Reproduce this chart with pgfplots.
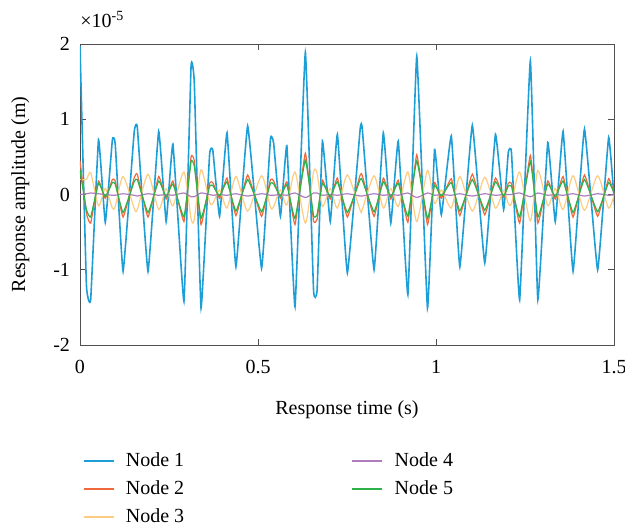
\documentclass[border=0pt]{standalone}
\usepackage{fontspec}
\setmainfont{Liberation Serif}
\usepackage{pgfplots}
\pgfplotsset{compat=1.18}
\usepackage{pgfplotstable}
\definecolor{c1}{RGB}{30,158,214}
\definecolor{c2}{RGB}{240,105,60}
\definecolor{c3}{RGB}{252,204,128}
\definecolor{c4}{RGB}{176,124,192}
\definecolor{c5}{RGB}{45,178,74}
\definecolor{axgray}{RGB}{80,80,80}

\pgfplotstableread{
x      b      o      g      yl     p
0.000  1.97   0.45   0.32   0.20   0.00
0.018 -1.20  -0.25  -0.20   0.20   0.01
0.030 -1.40  -0.38  -0.30   0.29   0.02
0.052  0.73   0.18   0.15  -0.15   0.01
0.071 -0.37  -0.05  -0.03   0.08   0.00
0.091  0.73   0.20   0.16  -0.18  -0.01
0.099  0.67   0.18   0.14  -0.16  -0.01
0.121 -1.02  -0.30  -0.24   0.24   0.01
0.152  0.82   0.22   0.17  -0.18  -0.01
0.161  0.89   0.27   0.20  -0.20  -0.02
0.191 -1.02  -0.30  -0.24   0.27   0.01
0.221  0.84   0.24   0.18  -0.20  -0.01
0.242 -0.36  -0.06  -0.03   0.08   0.00
0.261  0.67   0.18   0.14  -0.15  -0.01
0.292 -1.42  -0.36  -0.30   0.30   0.02
0.312  1.71   0.50   0.44  -0.32  -0.03
0.321  1.49   0.45   0.38  -0.33  -0.03
0.340 -1.51  -0.40  -0.32   0.33   0.02
0.364  0.53   0.15   0.11  -0.10   0.00
0.373  0.59   0.16   0.12  -0.12  -0.01
0.392 -0.29  -0.05  -0.02   0.06   0.00
0.413  0.82   0.22   0.17  -0.18  -0.01
0.438 -0.96  -0.28  -0.22   0.24   0.01
0.471  0.91   0.26   0.20  -0.22  -0.02
0.510 -0.98  -0.29  -0.23   0.25   0.01
0.535  0.74   0.20   0.15  -0.17  -0.01
0.544  0.68   0.18   0.14  -0.16  -0.01
0.563 -0.29  -0.05  -0.02   0.06   0.00
0.581  0.65   0.17   0.13  -0.14  -0.01
0.604 -1.49  -0.40  -0.32   0.30   0.02
0.633  1.89   0.55   0.46  -0.38  -0.04
0.656 -1.27  -0.35  -0.28   0.30   0.02
0.666 -1.27  -0.33  -0.27   0.28   0.02
0.681  0.71   0.19   0.15  -0.16  -0.01
0.703 -0.36  -0.06  -0.03   0.08   0.00
0.723  0.80   0.22   0.17  -0.18  -0.01
0.751 -1.04  -0.30  -0.24   0.26   0.01
0.787  0.87   0.26   0.20  -0.21  -0.02
0.793  0.87   0.25   0.19  -0.20  -0.02
0.826 -1.00  -0.29  -0.23   0.25   0.01
0.852  0.82   0.22   0.17  -0.18  -0.01
0.873 -0.38  -0.06  -0.03   0.08   0.00
0.894  0.71   0.19   0.15  -0.16  -0.01
0.921 -1.33  -0.37  -0.29   0.30   0.02
0.946  1.84   0.53   0.45  -0.36  -0.04
0.976 -1.51  -0.40  -0.32   0.32   0.02
0.996  0.60   0.16   0.12  -0.12  -0.01
1.015 -0.27  -0.05  -0.02   0.06   0.00
1.043  0.78   0.21   0.16  -0.18  -0.01
1.067 -0.96  -0.28  -0.22   0.24   0.01
1.102  0.92   0.27   0.20  -0.22  -0.02
1.137 -0.91  -0.27  -0.21   0.23   0.01
1.167  0.80   0.22   0.17  -0.18  -0.01
1.190 -0.20  -0.04  -0.02   0.05   0.00
1.203  0.56   0.15   0.11  -0.12   0.00
1.212  0.56   0.15   0.11  -0.12   0.00
1.235 -1.40  -0.38  -0.30   0.30   0.02
1.265  1.78   0.52   0.44  -0.35  -0.03
1.286 -1.40  -0.38  -0.30   0.32   0.02
1.314  0.69   0.18   0.14  -0.15  -0.01
1.335 -0.36  -0.06  -0.03   0.08   0.00
1.357  0.84   0.24   0.18  -0.20  -0.01
1.385 -1.02  -0.30  -0.24   0.25   0.01
1.417  0.87   0.26   0.20  -0.21  -0.02
1.454 -1.00  -0.29  -0.23   0.25   0.01
1.485  0.76   0.21   0.16  -0.18  -0.01
1.505 -0.36  -0.06  -0.03   0.08   0.00
}\data

\begin{document}
\begin{tikzpicture}
\path[use as bounding box] (-40pt,-91pt) rectangle (272.5pt,172.5pt);
\begin{axis}[
  at={(0,0)}, anchor=south west,
  scale only axis, width=267pt, height=150.5pt,
  xmin=0, xmax=1.5, ymin=-2, ymax=2,
  clip mode=individual,
  xtick={0,0.5,1,1.5}, xticklabels={0,0.5,1,1.5},
  ytick={-2,-1,0,1,2}, yticklabels={-2,-1,0,1,2},
  tick align=inside, major tick length=3pt,
  ticklabel style={font=\fontsize{10}{12}\selectfont, text=black},
  xticklabel style={yshift=-4pt},
  yticklabel style={xshift=-1.5pt},
  axis line style={axgray, line width=0.4pt},
  tick style={axgray, line width=0.4pt},
  xlabel={Response time (s)}, ylabel={Response amplitude (m)},
  label style={font=\fontsize{10}{12}\selectfont},
  xlabel style={at={(axis description cs:0.5,0)}, anchor=center, yshift=-32.5pt},
  ylabel style={at={(axis description cs:-0.112,0.5)}, anchor=center},
  legend columns=2,
  legend cell align=left,
  legend image code/.code={\draw[#1, line width=1.1pt] (0pt,0pt) -- (15pt,0pt); \path (19pt,0pt);},
  legend style={draw=none, fill=none, at={(axis description cs:0,0)}, anchor=north west,
    xshift=-2pt, yshift=-49.5pt, font=\fontsize{10}{12}\selectfont,
    row sep=1.5pt, /tikz/column 2/.style={column sep=81.5pt}},
]
\addplot[c1, line width=0.8pt, smooth, tension=0.18, forget plot] table[x=x, y=b] {\data};
\addplot[c2, line width=0.6pt, smooth, tension=0.2, forget plot] table[x=x, y=o] {\data};
\addplot[c3, line width=0.6pt, smooth, tension=0.4, forget plot] table[x=x, y=yl] {\data};
\addplot[c4, line width=0.6pt, smooth, tension=0.4, forget plot] table[x=x, y=p] {\data};
\addplot[c5, line width=0.6pt, smooth, tension=0.2, forget plot] table[x=x, y=g] {\data};
\addlegendimage{c1}\addlegendentry{Node 1}
\addlegendimage{c4}\addlegendentry{Node 4}
\addlegendimage{c2}\addlegendentry{Node 2}
\addlegendimage{c5}\addlegendentry{Node 5}
\addlegendimage{c3}\addlegendentry{Node 3}
\node[anchor=south west, inner sep=0pt, font=\fontsize{10}{12}\selectfont] at (axis description cs:0,1) [yshift=8pt] {×10\textsuperscript{-5}};
\end{axis}
\end{tikzpicture}
\end{document}
